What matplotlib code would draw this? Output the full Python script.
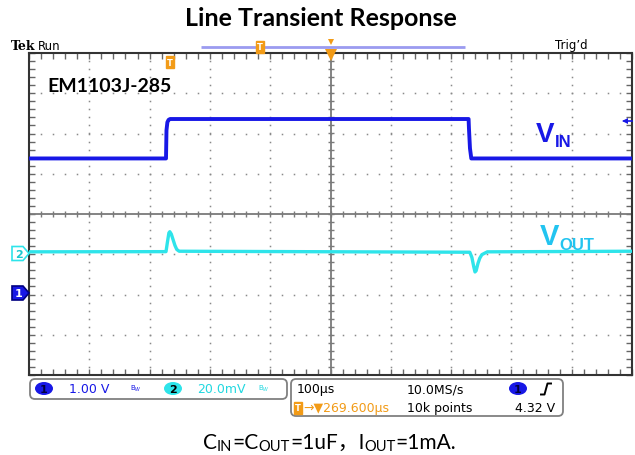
import numpy as np
import matplotlib
matplotlib.use("Agg")
import matplotlib.pyplot as plt
from matplotlib.patches import Polygon, FancyBboxPatch, Ellipse
from matplotlib.ticker import MultipleLocator

# ---------------- data ----------------
# time in us relative to screen centre, 100 us/div
vin_t = [-500, -272.8, -272.0, -270.5, -268.5, -266.0, 229.0, 229.6, 231.3, 233.5, 500]
vin_v = [3.35, 3.35, 4.05, 4.25, 4.31, 4.33, 4.33, 4.10, 3.60, 3.35, 3.35]   # V, 1 V/div

vout_t = [-500, -272.8, -270.5, -268.0, -266.5, -264.0, -261.0, -258.0, -255.0, -251.0,
          231.0, 234.5, 237.5, 239.6, 241.5, 244.5, 247.5, 251.0, 260.0, 500]
vout_mv = [0.8, 0.9, 5.5, 10.2, 10.8, 9.6, 6.8, 4.0, 2.0, 1.1,
           0.6, -2.0, -6.5, -9.2, -8.6, -5.0, -2.4, -0.6, 0.8, 1.1]          # mV deviation, 20 mV/div

ch1_scale, ch1_pos = 1.0, -1.97     # V/div, div
ch2_scale, ch2_pos = 20.0, -0.98    # mV/div, div
t_scale = 100.0                     # us/div

BLUE = "#1818e6"
CYAN = "#2ee4ea"
ORANGE = "#f29b17"
GRAY = "#7a7a7a"

W, H = 635, 456
fig = plt.figure(figsize=(W / 100, H / 100), dpi=100)
fig.patch.set_facecolor("white")

# graticule: 10 x 8 divisions
ax = fig.add_axes([29 / W, (H - 376) / H, 603 / W, 322 / H])
ax.set_xlim(-5, 5)
ax.set_ylim(-4, 4)
ax.xaxis.set_major_locator(MultipleLocator(1))
ax.yaxis.set_major_locator(MultipleLocator(1))
ax.xaxis.set_minor_locator(MultipleLocator(0.2))
ax.yaxis.set_minor_locator(MultipleLocator(0.2))
ax.tick_params(which="both", direction="in", top=True, right=True, length=4,
               width=1, color="#666666", labelbottom=False, labelleft=False)
for s in ax.spines.values():
    s.set_color("#333333")
    s.set_linewidth(1.5)

# dotted grid
fine_y = np.arange(-4, 4.001, 0.2)
fine_x = np.arange(-5, 5.001, 0.2)
for k in range(-4, 5):
    if k != 0:
        ax.plot([k] * len(fine_y), fine_y, ls="none", marker="s", ms=1.1, color="#8a8a8a", mew=0)
for k in range(-3, 4):
    if k != 0:
        ax.plot(fine_x, [k] * len(fine_x), ls="none", marker="s", ms=1.1, color="#8a8a8a", mew=0)

# centre cross with ticks
ax.axhline(0, color=GRAY, lw=1.3)
ax.axvline(0, color=GRAY, lw=1.3)
ax.plot(fine_x, np.zeros_like(fine_x), ls="none", marker="|", ms=5, color=GRAY, mew=1)
ax.plot(np.zeros_like(fine_y), fine_y, ls="none", marker="_", ms=5, color=GRAY, mew=1)

# traces
vin_x = np.array(vin_t) / t_scale
vin_y = np.array(vin_v) / ch1_scale + ch1_pos
vout_x = np.array(vout_t) / t_scale
vout_y = np.array(vout_mv) / ch2_scale + ch2_pos
ax.plot(vout_x, vout_y, color=CYAN, lw=2.4, solid_joinstyle="round", zorder=5)
ax.plot(vin_x, vin_y, color=BLUE, lw=2.8, solid_joinstyle="round", zorder=6)

# ---------------- overlay in pixel coords ----------------
ov = fig.add_axes([0, 0, 1, 1], zorder=10)
ov.set_xlim(0, W)
ov.set_ylim(H, 0)
ov.axis("off")
ov.patch.set_alpha(0)

# title and caption
ov.text(W / 2 + 3, 19, "Line Transient Response", ha="center", va="center",
        fontsize=18, fontweight="bold", family="Lato", color="black")


def chain(x, y, pieces, size, sub_size, color, weight="normal", family=("Lato", "Noto Sans CJK SC"), drop=1):
    base = ov.text(x, y, pieces[0][0], fontsize=size, color=color, fontweight=weight,
                   family=list(family), ha="left", va="baseline")
    prev = base
    for txt, is_sub in pieces[1:]:
        prev = ov.annotate(txt, xy=(1, 0), xycoords=(prev, base),
                           xytext=(0, -drop if is_sub else 0), textcoords="offset points",
                           fontsize=sub_size if is_sub else size, color=color,
                           fontweight=weight, family=list(family), ha="left", va="bottom",
                           annotation_clip=False)
    return base


chain(203, 449, [("C", False), ("IN", True), ("=C", False), ("OUT", True),
                 ("=1uF，I", False), ("OUT", True), ("=1mA.", False)],
      15, 10.5, "black", drop=0.5)

# part number
ov.text(47, 86, "EM1103J-285", ha="left", va="center", fontsize=14,
        fontweight="bold", family="Lato", color="black")

# channel labels
chain(536, 142, [("V", False), ("IN", True)], 20, 12, BLUE, weight="bold",
      family=("Liberation Sans",), drop=1.5)
chain(540, 245, [("V", False), ("OUT", True)], 21, 12, "#22c4f0", weight="bold",
      family=("Liberation Sans",), drop=1.5)

# top status line
ov.text(11, 47, "Tek", ha="left", va="center", fontsize=9, fontweight="bold",
        family="DejaVu Serif", color="black")
ov.text(38, 46, "Run", ha="left", va="center", fontsize=8.5, family="DejaVu Sans", color="black")
ov.text(555, 46, "Trig\u2019d", ha="left", va="center", fontsize=8.5, family="DejaVu Sans", color="black")
ov.plot([201, 465], [47.5, 47.5], color="#9b9bf0", lw=2, solid_capstyle="butt")
ov.text(260, 48, "T", ha="center", va="center", fontsize=6, fontweight="bold", color="white",
        bbox=dict(boxstyle="square,pad=0.15", fc=ORANGE, ec=ORANGE))
ov.plot([330.5], [42.5], marker="v", ms=5, color=ORANGE, mew=0)
ov.plot([330.5], [56], marker="v", ms=9, color=ORANGE, mew=0)
ov.text(170, 63, "T", ha="center", va="center", fontsize=6, fontweight="bold", color="white",
        bbox=dict(boxstyle="square,pad=0.15", fc=ORANGE, ec=ORANGE))

# trigger level arrow
ov.plot([624, 632], [121.5, 121.5], color=BLUE, lw=1.2)
ov.plot([625], [121.5], marker="<", ms=5, color=BLUE, mew=0)


def ch_marker(yc, label, fc, ec, tc):
    pts = [(12, yc - 7), (23, yc - 7), (29, yc), (23, yc + 7), (12, yc + 7)]
    ov.add_patch(Polygon(pts, closed=True, fc=fc, ec=ec, lw=1.2))
    ov.text(19, yc + 0.5, label, ha="center", va="center", fontsize=8, fontweight="bold", color=tc)


ch_marker(254.5, "2", "white", CYAN, "#18c8d0")
ch_marker(294, "1", BLUE, "#000080", "white")

# bottom readout boxes
ov.add_patch(FancyBboxPatch((30, 380), 257, 20, boxstyle="round,pad=0,rounding_size=5",
                            fc="white", ec="#808080", lw=1.3))
ov.add_patch(FancyBboxPatch((291, 380), 272, 37, boxstyle="round,pad=0,rounding_size=5",
                            fc="white", ec="#808080", lw=1.3))

ov.add_patch(Ellipse((44, 389.5), 18, 13, fc=BLUE, ec="none"))
ov.text(44, 390, "1", ha="center", va="center", fontsize=8, fontweight="bold", color="#000040")
ov.text(69, 390, "1.00 V", ha="left", va="center", fontsize=9, family="DejaVu Sans", color=BLUE)
ov.text(130, 389, "B$_W$", ha="left", va="center", fontsize=5, color=BLUE)
ov.add_patch(Ellipse((173, 389.5), 18, 13, fc=CYAN, ec="none"))
ov.text(173, 390, "2", ha="center", va="center", fontsize=8, fontweight="bold", color="black")
ov.text(197, 390, "20.0mV", ha="left", va="center", fontsize=9, family="DejaVu Sans", color="#22d8e0")
ov.text(258, 389, "B$_W$", ha="left", va="center", fontsize=5, color="#22d8e0")

ov.text(297, 390, "100\u00b5s", ha="left", va="center", fontsize=9, family="DejaVu Sans", color="black")
ov.text(407, 390, "10.0MS/s", ha="left", va="center", fontsize=9, family="DejaVu Sans", color="black")
ov.add_patch(Ellipse((518, 389.5), 18, 13, fc=BLUE, ec="none"))
ov.text(518, 390, "1", ha="center", va="center", fontsize=8, fontweight="bold", color="#000040")
ov.plot([541, 544.5, 547.5, 551], [395.5, 395.5, 384.5, 384.5], color="black", lw=1.4)

ov.text(298, 409, "T", ha="center", va="center", fontsize=6, fontweight="bold", color="white",
        bbox=dict(boxstyle="square,pad=0.15", fc=ORANGE, ec=ORANGE))
ov.text(303, 409, "\u2192\u25bc269.600\u00b5s", ha="left", va="center", fontsize=9,
        family="DejaVu Sans", color=ORANGE)
ov.text(407, 409, "10k points", ha="left", va="center", fontsize=9, family="DejaVu Sans", color="black")
ov.text(555, 409, "4.32 V", ha="right", va="center", fontsize=9, family="DejaVu Sans", color="black")

fig.savefig("out.png", dpi=100, facecolor="white")
